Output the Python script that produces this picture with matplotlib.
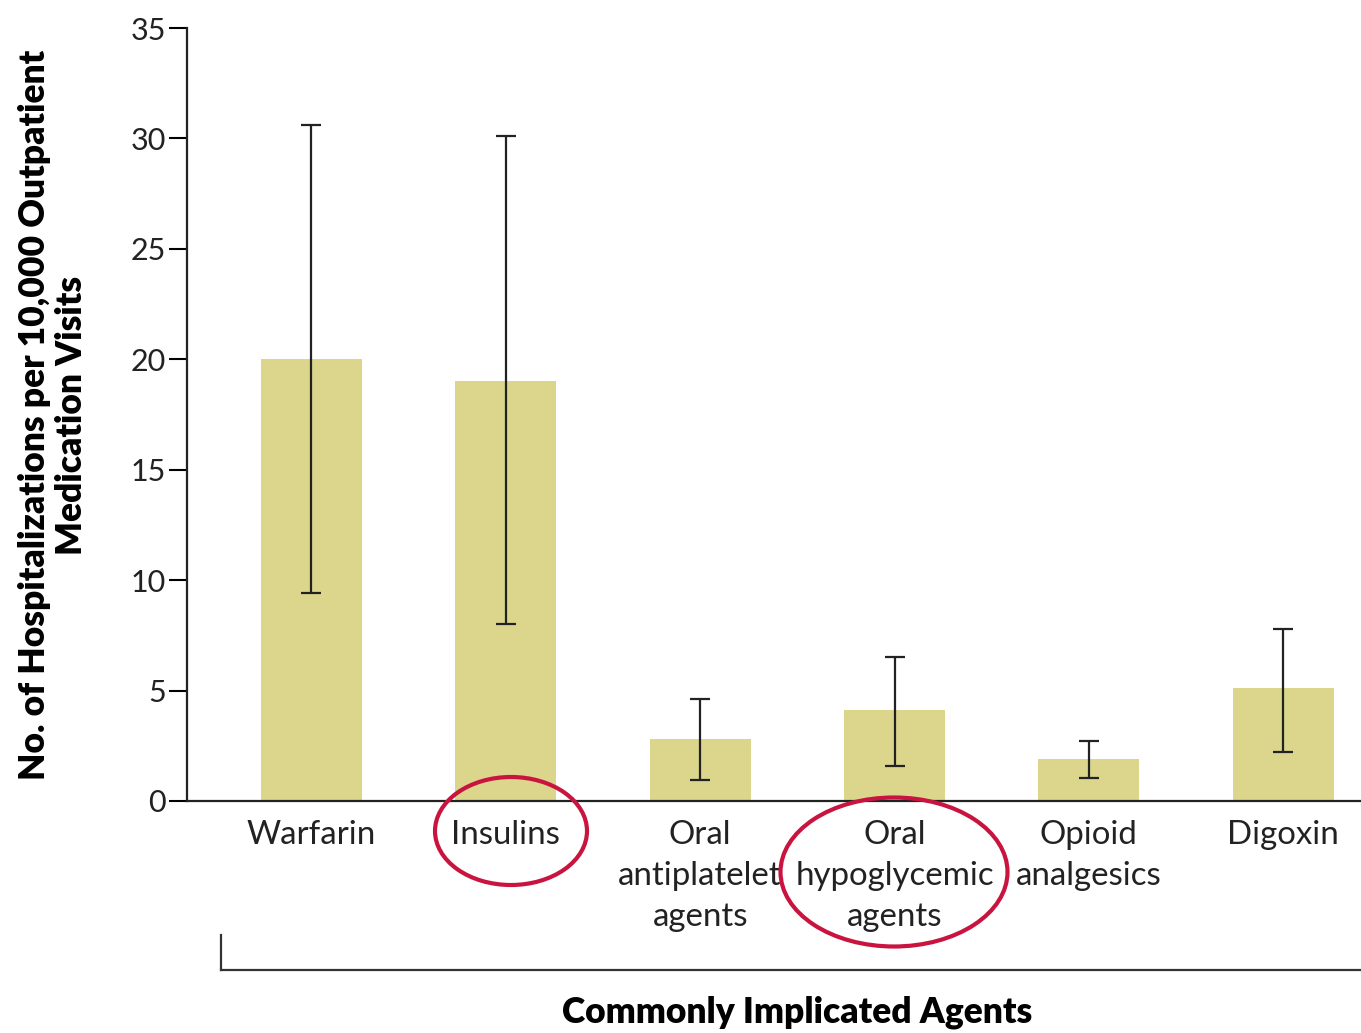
import numpy as np
import matplotlib
matplotlib.use("Agg")
import matplotlib.pyplot as plt
from matplotlib.patches import Ellipse
from matplotlib.lines import Line2D

# --- data ---
agents = ["Warfarin", "Insulins", "Oral\nantiplatelet\nagents",
          "Oral\nhypoglycemic\nagents", "Opioid\nanalgesics", "Digoxin"]
rates = [20.0, 19.0, 2.8, 4.1, 1.9, 5.1]
ci_low = [9.4, 8.0, 0.95, 1.6, 1.05, 2.2]
ci_high = [30.6, 30.1, 4.6, 6.5, 2.7, 7.8]
yticks = [0, 5, 10, 15, 20, 25, 30, 35]

bar_color = "#dcd58c"
ring_color = "#c8143f"

fig = plt.figure(figsize=(13.61, 10.33), dpi=100)
ax = fig.add_axes([187 / 1361, 1 - 801 / 1033, 1 - 187 / 1361, 773 / 1033])

x = np.arange(len(agents))
err = [np.array(rates) - np.array(ci_low), np.array(ci_high) - np.array(rates)]
ax.bar(x, rates, width=0.52, color=bar_color, zorder=1)
ax.errorbar(x, rates, yerr=err, fmt="none", ecolor="#222222",
            elinewidth=1.6, capsize=7, capthick=1.6, zorder=2)

ax.set_xlim(-0.64, 5.40)
ax.set_ylim(0, 35)
ax.set_yticks(yticks)
ax.set_xticks(x)
ax.set_xticklabels(agents, fontsize=23.8, family="Lato", linespacing=1.45,
                   color="#222222")
for lab in ax.get_yticklabels():
    lab.set_fontsize(22)
    lab.set_family("Lato")
    lab.set_color("#222222")

ax.tick_params(axis="y", length=13, width=1.5, direction="out", pad=2)
ax.tick_params(axis="x", length=0, pad=14)
for side in ["top", "right"]:
    ax.spines[side].set_visible(False)
for side in ["left", "bottom"]:
    ax.spines[side].set_linewidth(1.6)
    ax.spines[side].set_color("#222222")

fig.text(53 / 1361, 1 - 415 / 1033,
         "No. of Hospitalizations per 10,000 Outpatient\nMedication Visits",
         rotation=90, ha="center", va="center", fontsize=25.5,
         fontweight="heavy", family="Lato", linespacing=1.15)

# bracket under the category labels
fig.add_artist(Line2D([221 / 1361, 1.0], [1 - 970 / 1033] * 2,
                      color="#333333", lw=1.6, transform=fig.transFigure))
fig.add_artist(Line2D([221 / 1361] * 2, [1 - 935 / 1033, 1 - 970 / 1033],
                      color="#333333", lw=1.6, transform=fig.transFigure))
fig.text(797 / 1361, 1 - 1012 / 1033, "Commonly Implicated Agents",
         ha="center", va="center", fontsize=25.5, fontweight="heavy",
         family="Lato")

# red rings around two labels
for cx, cy, w, h in [(511, 831, 152, 108), (894, 872, 227, 149)]:
    fig.add_artist(Ellipse((cx / 1361, 1 - cy / 1033), w / 1361, h / 1033,
                           fill=False, edgecolor=ring_color, lw=3,
                           transform=fig.transFigure))

fig.savefig("out.png", dpi=100)
